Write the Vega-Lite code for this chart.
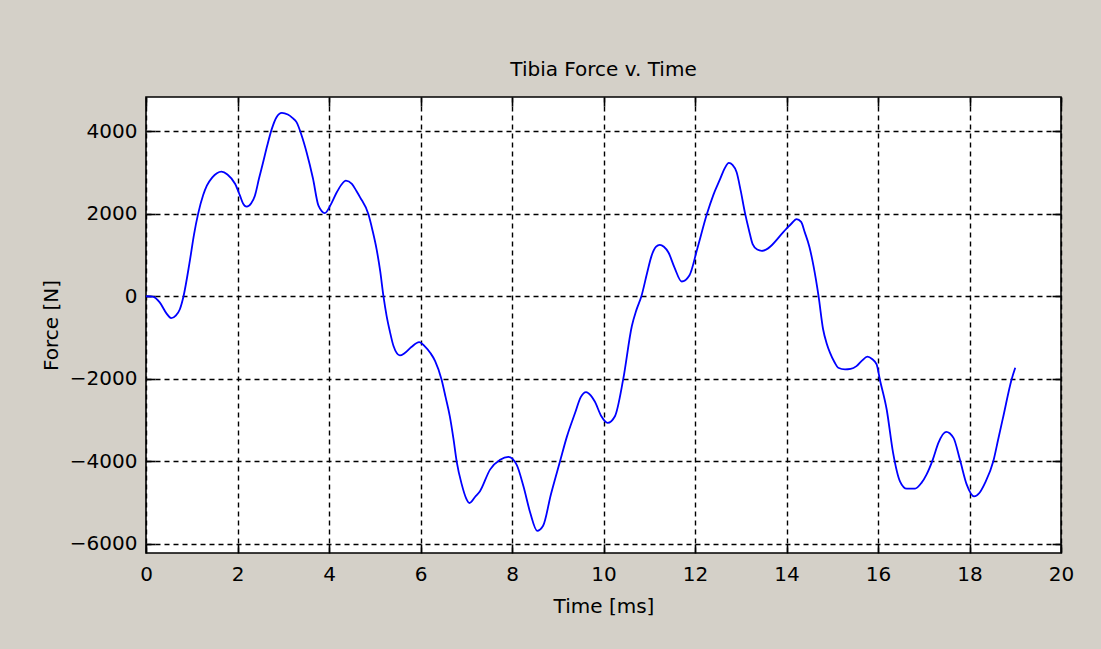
{
  "$schema": "https://vega.github.io/schema/vega-lite/v6.json",
  "width": 915,
  "height": 456,
  "autosize": {"type": "none"},
  "padding": {"left": 146, "top": 97, "right": 40, "bottom": 96},
  "background": "#d4d0c8",
  "title": {"text": "Tibia Force v. Time", "font": "DejaVu Sans", "fontSize": 20, "fontWeight": "normal", "color": "#000000", "offset": 16},
  "config": {
    "view": {"fill": "#ffffff", "stroke": "#000000", "strokeWidth": 1.6},
    "axis": {"labelFont": "DejaVu Sans", "titleFont": "DejaVu Sans", "labelFontSize": 20, "titleFontSize": 20, "titleFontWeight": "normal", "labelColor": "#000000", "titleColor": "#000000", "domain": false, "tickColor": "#000000", "tickWidth": 1.6, "tickSize": -9, "gridColor": "#000000", "gridOpacity": 1, "gridWidth": 1.4, "gridDash": [5, 4], "labelFlush": false, "labelOverlap": false, "format": "d"}
  },
  "data": {"values": [
    {"t": 0, "f": 0}, {"t": 0.15, "f": -10}, {"t": 0.3, "f": -150}, {"t": 0.45, "f": -420}, {"t": 0.55, "f": -530}, {"t": 0.65, "f": -470}, {"t": 0.74, "f": -315}, {"t": 0.82, "f": 0}, {"t": 0.95, "f": 800}, {"t": 1.05, "f": 1500}, {"t": 1.14, "f": 2000}, {"t": 1.25, "f": 2450}, {"t": 1.33, "f": 2677}, {"t": 1.45, "f": 2880}, {"t": 1.55, "f": 2980}, {"t": 1.65, "f": 3017}, {"t": 1.78, "f": 2950}, {"t": 1.95, "f": 2718}, {"t": 2.05, "f": 2450}, {"t": 2.12, "f": 2250}, {"t": 2.2, "f": 2168}, {"t": 2.3, "f": 2250}, {"t": 2.38, "f": 2434}, {"t": 2.47, "f": 2850}, {"t": 2.56, "f": 3245}, {"t": 2.65, "f": 3650}, {"t": 2.75, "f": 4053}, {"t": 2.85, "f": 4330}, {"t": 2.97, "f": 4442}, {"t": 3.1, "f": 4400}, {"t": 3.2, "f": 4320}, {"t": 3.29, "f": 4216}, {"t": 3.4, "f": 3900}, {"t": 3.51, "f": 3488}, {"t": 3.65, "f": 2850}, {"t": 3.77, "f": 2192}, {"t": 3.91, "f": 2014}, {"t": 4.03, "f": 2200}, {"t": 4.17, "f": 2517}, {"t": 4.27, "f": 2700}, {"t": 4.37, "f": 2799}, {"t": 4.5, "f": 2720}, {"t": 4.6, "f": 2550}, {"t": 4.68, "f": 2395}, {"t": 4.86, "f": 1990}, {"t": 4.95, "f": 1600}, {"t": 5.04, "f": 1141}, {"t": 5.12, "f": 600}, {"t": 5.19, "f": 0}, {"t": 5.26, "f": -480}, {"t": 5.33, "f": -850}, {"t": 5.41, "f": -1206}, {"t": 5.55, "f": -1432}, {"t": 5.65, "f": -1380}, {"t": 5.8, "f": -1230}, {"t": 5.97, "f": -1109}, {"t": 6.1, "f": -1220}, {"t": 6.22, "f": -1380}, {"t": 6.32, "f": -1570}, {"t": 6.46, "f": -2015}, {"t": 6.55, "f": -2450}, {"t": 6.64, "f": -2905}, {"t": 6.72, "f": -3450}, {"t": 6.79, "f": -3997}, {"t": 6.9, "f": -4550}, {"t": 7.0, "f": -4900}, {"t": 7.07, "f": -5007}, {"t": 7.2, "f": -4850}, {"t": 7.3, "f": -4720}, {"t": 7.52, "f": -4199}, {"t": 7.74, "f": -3960}, {"t": 7.92, "f": -3891}, {"t": 8.1, "f": -4078}, {"t": 8.25, "f": -4604}, {"t": 8.4, "f": -5250}, {"t": 8.55, "f": -5680}, {"t": 8.68, "f": -5558}, {"t": 8.85, "f": -4800}, {"t": 9.05, "f": -3997}, {"t": 9.2, "f": -3400}, {"t": 9.38, "f": -2823}, {"t": 9.5, "f": -2450}, {"t": 9.62, "f": -2322}, {"t": 9.72, "f": -2400}, {"t": 9.81, "f": -2550}, {"t": 9.95, "f": -2900}, {"t": 10.09, "f": -3066}, {"t": 10.25, "f": -2905}, {"t": 10.43, "f": -2015}, {"t": 10.62, "f": -720}, {"t": 10.72, "f": -330}, {"t": 10.83, "f": 7}, {"t": 10.95, "f": 550}, {"t": 11.05, "f": 978}, {"t": 11.15, "f": 1200}, {"t": 11.23, "f": 1245}, {"t": 11.32, "f": 1200}, {"t": 11.42, "f": 1060}, {"t": 11.55, "f": 700}, {"t": 11.71, "f": 357}, {"t": 11.88, "f": 510}, {"t": 12.05, "f": 1150}, {"t": 12.26, "f": 1990}, {"t": 12.4, "f": 2450}, {"t": 12.55, "f": 2840}, {"t": 12.65, "f": 3100}, {"t": 12.74, "f": 3228}, {"t": 12.82, "f": 3180}, {"t": 12.91, "f": 3002}, {"t": 13.0, "f": 2550}, {"t": 13.09, "f": 2031}, {"t": 13.18, "f": 1600}, {"t": 13.26, "f": 1262}, {"t": 13.36, "f": 1130}, {"t": 13.46, "f": 1100}, {"t": 13.99, "f": 1626}, {"t": 14.1, "f": 1750}, {"t": 14.22, "f": 1869}, {"t": 14.32, "f": 1800}, {"t": 14.4, "f": 1546}, {"t": 14.5, "f": 1200}, {"t": 14.59, "f": 735}, {"t": 14.7, "f": 7}, {"t": 14.8, "f": -800}, {"t": 14.88, "f": -1150}, {"t": 14.95, "f": -1367}, {"t": 15.05, "f": -1600}, {"t": 15.13, "f": -1731}, {"t": 15.28, "f": -1772}, {"t": 15.4, "f": -1760}, {"t": 15.53, "f": -1692}, {"t": 15.65, "f": -1560}, {"t": 15.77, "f": -1464}, {"t": 15.87, "f": -1520}, {"t": 15.97, "f": -1650}, {"t": 16.04, "f": -2015}, {"t": 16.19, "f": -2743}, {"t": 16.33, "f": -3794}, {"t": 16.48, "f": -4482}, {"t": 16.63, "f": -4660}, {"t": 16.81, "f": -4660}, {"t": 16.95, "f": -4520}, {"t": 17.06, "f": -4320}, {"t": 17.2, "f": -3950}, {"t": 17.32, "f": -3551}, {"t": 17.49, "f": -3284}, {"t": 17.65, "f": -3430}, {"t": 17.79, "f": -3956}, {"t": 17.94, "f": -4563}, {"t": 18.1, "f": -4847}, {"t": 18.22, "f": -4760}, {"t": 18.34, "f": -4522}, {"t": 18.52, "f": -3997}, {"t": 18.63, "f": -3450}, {"t": 18.74, "f": -2905}, {"t": 18.92, "f": -2015}, {"t": 19.0, "f": -1731}
  ]},
  "layer": [
    {
      "mark": {"type": "line", "color": "#0000ff", "strokeWidth": 1.8, "interpolate": "monotone"},
      "encoding": {
        "x": {"field": "t", "type": "quantitative", "scale": {"domain": [0, 20], "nice": false, "zero": false}, "axis": {"orient": "bottom", "title": "Time [ms]", "values": [0, 2, 4, 6, 8, 10, 12, 14, 16, 18, 20], "grid": true, "labelPadding": 20, "titlePadding": 12}},
        "y": {"field": "f", "type": "quantitative", "scale": {"domain": [-6218, 4825], "nice": false, "zero": false}, "axis": {"orient": "left", "title": "Force [N]", "values": [-6000, -4000, -2000, 0, 2000, 4000], "grid": true, "labelPadding": 18, "titlePadding": 8}}
      }
    },
    {
      "mark": {"type": "line", "opacity": 0},
      "encoding": {
        "x": {"field": "t", "type": "quantitative", "axis": {"orient": "top", "title": null, "labels": false, "grid": false, "values": [0, 2, 4, 6, 8, 10, 12, 14, 16, 18, 20]}},
        "y": {"field": "f", "type": "quantitative", "axis": {"orient": "right", "title": null, "labels": false, "grid": false, "values": [-6000, -4000, -2000, 0, 2000, 4000]}}
      }
    }
  ],
  "resolve": {"axis": {"x": "independent", "y": "independent"}}
}
